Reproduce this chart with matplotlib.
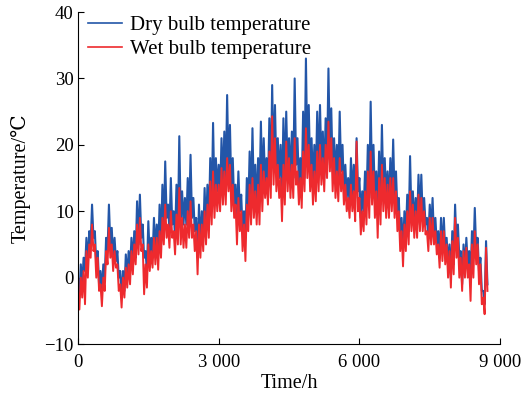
import numpy as np
import matplotlib
matplotlib.use("Agg")
import matplotlib.pyplot as plt
from matplotlib.ticker import FuncFormatter

# values, four readings per 120 h (one row = 480 h)
dry_bulb = [
    0, -3, 2, -1, 3, 1, 6, 2, 7, 5, 11, 6, 7, 2, 4, -1,
    1, -2, 2, 0, 6, 4, 11, 5, 7.5, 3, 6, 2.5, 4, 0, 1, -3,
    1, -2, 3.5, 0, 4, 1, 6, 2, 7, 3, 11.5, 5, 12.5, 6, 8, 3,
    4, 1, 8.5, 3, 6, 3, 9, 4, 8, 4, 11, 5, 14, 7, 17.5, 9,
    11, 7, 15, 8, 10, 6, 14, 7, 21.3, 9, 13, 8, 12, 8, 15, 9,
    18.5, 9, 12, 7, 9, 3, 11, 5, 10, 6, 13.5, 7, 14, 8, 18, 10,
    23.3, 12, 18, 13, 17, 12, 21, 14, 22, 14, 27.5, 16, 23, 13, 18, 11,
    14, 9, 16, 10, 12.5, 7, 10, 6, 15, 10, 19, 11, 22.5, 12, 17, 10,
    18, 12, 23.5, 13, 21, 14, 18, 13, 24, 14, 29, 17, 26, 16, 21, 15,
    20, 12, 24, 14, 25, 16, 21, 15, 22, 15, 30, 17, 21, 14, 18, 13,
    25, 15, 33, 18, 26, 16, 21, 14, 20, 14, 25, 16, 26, 17, 22, 15,
    24, 17, 31.5, 19, 25.5, 16, 21, 15, 20, 14, 25, 16, 20, 13, 17, 12,
    15, 11, 18, 12, 17, 12, 21, 13, 15, 9, 13, 10, 16, 11, 20, 12,
    26.5, 14, 20, 12, 16, 10, 19, 11, 23, 13, 18, 12, 16, 11, 18, 12,
    20.8, 12, 16, 10, 12, 6, 9, 4, 10, 6, 12.5, 7, 18.3, 9, 13, 8,
    12, 8, 15.5, 9, 15.5, 9, 12, 8, 9, 6, 11, 7, 12, 6, 9, 5,
    7, 3, 9, 4, 9, 4, 6, 2, 5, 0, 7, 2, 11, 5, 8, 3,
    4, -1, 5, 1, 6, 2, 4, 0, 7, 3, 10.5, 4, 6, 1, 3, -2,
    -2, -4, 5.5, -1,
]
wet_bulb = [
    -2, -4.8, 0, -3, 1, -4, 4, 0, 5, 3, 8, 4, 5, 0, 3, -2,
    -1, -4.3, 0, -2, 4, 2, 7.5, 3, 5, 1, 4, 1.5, 2, -2, -1, -4.5,
    0, -3, 1.5, -1.5, 2, -1, 4, 0.5, 5, 2, 8, 3.5, 9, 4, 5, -2.5,
    2, -1.5, 5, 1, 4, 1.5, 6, 2, 6, 1.2, 7, 3, 9, 5, 11, 6,
    8, 4.5, 10, 6, 7, 3.5, 9.5, 5, 13.5, 5, 9, 4.5, 8, 4.5, 10, 6,
    11.5, 6, 8, 4, 7, 0.5, 8, 3, 8, 4, 10, 5, 11, 6, 14.5, 8,
    16, 9, 14, 10, 14, 10, 16.5, 11, 16, 11, 18, 13, 17, 10, 14, 9,
    11, 5, 12, 7, 10, 4, 8, 2.5, 11, 7, 14, 8, 15, 9, 13, 8,
    14, 8, 17, 10, 16, 12, 15, 11, 19, 12, 24.3, 14, 21, 13, 17, 12,
    15, 8.5, 17, 11, 20.5, 13, 18, 12, 17, 12, 21, 14, 16, 11, 15, 10.5,
    19, 13, 22.5, 15, 20, 13, 17, 11, 16, 11.5, 19, 13, 20, 14, 18, 13,
    20, 15, 23.5, 16, 21, 13, 18, 12, 16, 11.5, 18, 13, 16, 11, 14, 10,
    12, 9, 14, 10, 13, 8.5, 20.5, 10, 12, 6.5, 10, 7, 13, 8, 16, 9,
    19, 11, 16, 9, 13, 6, 15, 8, 17, 10, 15, 9, 14, 9, 15, 10,
    15, 9, 13, 7, 10, 4, 7, 1.7, 8, 4, 10, 5, 13, 7, 11, 6,
    10, 6, 12.5, 7, 12, 7, 10, 6.5, 7, 4, 9, 5, 9, 5, 7, 3.5,
    5, 1.5, 7, 2.5, 7, 2, 5, 0, 4, -1.5, 5.5, 0.5, 9, 3, 6, 0,
    3, -2, 4, 0, 4.5, 0, 2, -3.5, 5, 0, 7, 2, 5, -1, 2, -4,
    -3, -5.5, 4.5, -2,
]
hours = np.arange(len(dry_bulb)) * 30

x_ticks = [0, 3000, 6000, 9000]
y_ticks = [-10, 0, 10, 20, 30, 40]

plt.rcParams['font.family'] = ['Liberation Serif', 'DejaVu Serif']
plt.rcParams['font.size'] = 13.5

fig = plt.figure(figsize=(5.29, 4.01), dpi=100)
ax = fig.add_axes([0.1474, 0.142, 0.798, 0.828])

ax.plot(hours, dry_bulb, color='#2356a8', lw=1.5, label='Dry bulb temperature')
ax.plot(hours, wet_bulb, color='#ee2a2e', lw=1.4, label='Wet bulb temperature')

ax.set_xlim(0, 9000)
ax.set_ylim(-10, 40)
ax.set_xticks(x_ticks)
ax.set_yticks(y_ticks)
ax.xaxis.set_major_formatter(FuncFormatter(lambda v, p: f"{int(v):,}".replace(",", " ")))
ax.tick_params(direction='in', length=4, width=0.8)
ax.tick_params(axis='x', pad=7)
ax.tick_params(axis='y', pad=3)
for s in ['top', 'right']:
    ax.spines[s].set_visible(False)

ax.set_xlabel('Time/h', fontsize=14.5, labelpad=2)
ax.set_ylabel('Temperature/℃', fontsize=14.5, labelpad=10)

leg = ax.legend(loc='upper left', frameon=False, fontsize=15, handlelength=1.6,
                handletextpad=0.4, borderaxespad=0.1, labelspacing=0.2,
                bbox_to_anchor=(0.0, 1.02))
for line in leg.get_lines():
    line.set_linewidth(1.2)

fig.savefig('out.png', dpi=100)
